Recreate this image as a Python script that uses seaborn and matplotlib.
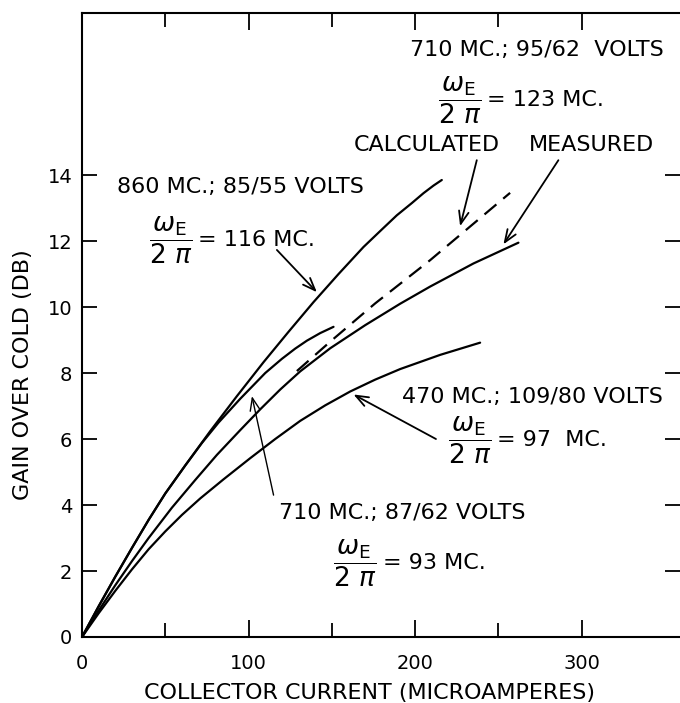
import numpy as np
import pandas as pd
import seaborn as sns
import matplotlib.pyplot as plt

# Curves: collector current (microamperes) vs gain over cold (dB)
current_860 = [0, 10, 20, 30, 40, 50, 62, 77, 93, 109, 124, 139, 154, 169, 180, 189, 198, 205, 211, 216]
gain_860 = [0, 0.93, 1.83, 2.7, 3.55, 4.35, 5.2, 6.24, 7.3, 8.33, 9.25, 10.15, 11.0, 11.82, 12.35,
            12.78, 13.15, 13.45, 13.68, 13.85]

current_710_87 = [0, 10, 20, 30, 40, 50, 62, 72, 82, 95, 110, 120, 128, 135, 143, 151]
gain_710_87 = [0, 0.93, 1.83, 2.7, 3.55, 4.35, 5.2, 5.88, 6.5, 7.22, 8.0, 8.43, 8.74, 8.98, 9.21, 9.4]

current_measured = [0, 10, 20, 30, 40, 54, 68, 81, 95, 107, 119, 131, 149, 170, 191, 209, 235, 262]
gain_measured = [0, 0.8, 1.57, 2.3, 3.0, 3.92, 4.76, 5.52, 6.27, 6.9, 7.5, 8.05, 8.75, 9.45, 10.1,
                 10.62, 11.32, 11.95]

current_calculated = [129, 149, 176, 209, 257]
gain_calculated = [8.06, 8.95, 10.11, 11.42, 13.46]

current_470 = [0, 10, 20, 30, 40, 50, 60, 71, 85, 101, 116, 131, 146, 161, 176, 191, 215, 239]
gain_470 = [0, 0.72, 1.4, 2.05, 2.66, 3.2, 3.7, 4.2, 4.78, 5.42, 6.0, 6.55, 7.02, 7.44, 7.8, 8.12,
            8.55, 8.92]

x_major = [0, 100, 200, 300]
x_minor = [50, 150, 250]
y_ticks = [0, 2, 4, 6, 8, 10, 12, 14]

sns.set_style("ticks")
plt.rcParams['font.family'] = ['DejaVu Sans']
plt.rcParams['mathtext.fontset'] = 'dejavusans'
plt.rcParams.update({'text.color': 'black', 'axes.labelcolor': 'black',
                     'xtick.color': 'black', 'ytick.color': 'black'})

fig = plt.figure(figsize=(6.8, 7.03), dpi=100)
ax = fig.add_axes([82 / 680, 66 / 703, 598 / 680, 624.3 / 703])

line_kw = dict(color='black', linewidth=1.6, estimator=None, ax=ax, legend=False)
sns.lineplot(x=current_860, y=gain_860, **line_kw)
sns.lineplot(x=current_710_87, y=gain_710_87, **line_kw)
sns.lineplot(x=current_measured, y=gain_measured, **line_kw)
sns.lineplot(x=current_470, y=gain_470, **line_kw)
sns.lineplot(x=current_calculated, y=gain_calculated, linestyle=(0, (7, 4)), **line_kw)

ax.set_xlim(0, 359)
ax.set_ylim(0, 18.92)
ax.set_xticks(x_major)
ax.set_xticks(x_minor, minor=True)
ax.set_yticks(y_ticks)
ax.tick_params(which='both', direction='in', top=True, right=True, width=1.3,
               labelsize=14)
ax.tick_params(axis='x', which='major', length=12, pad=12)
ax.tick_params(axis='x', which='minor', length=10)
ax.tick_params(axis='y', which='major', length=11, pad=7)
ax.tick_params(axis='y', which='minor', left=False, right=False)
for side in ['left', 'bottom', 'top']:
    ax.spines[side].set_linewidth(1.5)
    ax.spines[side].set_color('black')
ax.spines['right'].set_visible(False)

ax.set_xlabel('COLLECTOR CURRENT (MICROAMPERES)', fontsize=16)
ax.set_ylabel('GAIN OVER COLD (DB)', fontsize=16)
ax.xaxis.set_label_coords(0.48, -0.074)
ax.yaxis.set_label_coords(-0.082, 0.42)

txt = dict(fontsize=16, color='black', ha='center', va='center')
frac = r'$\dfrac{\omega_\mathrm{E}}{2\ \pi}$'


def fraction_label(x_bar_end, x_eq, y, value):
    # big omega_E / 2pi fraction followed by "= value"
    ax.text(x_bar_end, y, frac, fontsize=19, ha='right', va='center')
    ax.text(x_eq, y, '= ' + value, fontsize=16, ha='left', va='center')


ax.text(272.8, 17.79, '710 MC.; 95/62  VOLTS', **txt)
fraction_label(240.1, 243.2, 16.27, '123 MC.')
ax.text(207, 14.9, 'CALCULATED', **txt)
ax.text(306, 14.9, 'MEASURED', **txt)
ax.text(95.1, 13.64, '860 MC.; 85/55 VOLTS', **txt)
fraction_label(66.6, 69.5, 12.03, '116 MC.')
ax.text(270.7, 7.27, '470 MC.; 109/80 VOLTS', **txt)
fraction_label(246.1, 249.0, 5.97, '97  MC.')
ax.text(192, 3.76, '710 MC.; 87/62 VOLTS', **txt)
fraction_label(177.1, 180.5, 2.24, '93 MC.')

arrow = dict(arrowstyle='->, head_length=0.9, head_width=0.35', color='black',
             lw=1.3, shrinkA=0, shrinkB=0)
ax.annotate('', xy=(141, 10.45), xytext=(117, 11.73), arrowprops=arrow)
ax.annotate('', xy=(227, 12.45), xytext=(237, 14.45), arrowprops=arrow)
ax.annotate('', xy=(253, 11.9), xytext=(286, 14.45), arrowprops=arrow)
ax.annotate('', xy=(163, 7.35), xytext=(212.5, 6.0), arrowprops=arrow)
thin = dict(arrow, lw=1.0)
ax.annotate('', xy=(102, 7.3), xytext=(115, 4.3), arrowprops=thin)

fig.savefig('out.png', dpi=100)
